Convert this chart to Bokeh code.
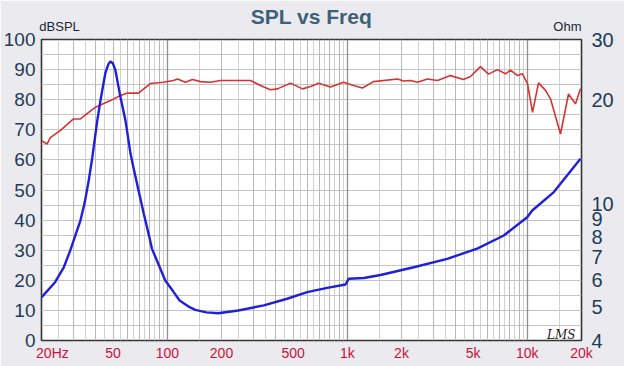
from bokeh.plotting import figure
from bokeh.models import (Range1d, LinearAxis, LogAxis, FixedTicker, Grid, Label, LogScale,
                          BasicTickFormatter)
from bokeh.embed import file_html
from bokeh.resources import INLINE

# ---------------- data ----------------
spl_freq = [20.0, 21.5, 22.4, 25.5, 30.1, 32.9, 39.9, 48.3, 54.9, 60.1, 69.2, 80.7, 95.3,
            108, 114, 126, 138, 153, 174, 197, 233, 290, 329, 374, 409, 483, 564, 625,
            692, 806, 953, 1083, 1215, 1398, 1901, 2052, 2244, 2455, 2789, 3170, 3743,
            4420, 4835, 5494, 6085, 6830, 7565, 8066, 8820, 9402, 10024, 10690, 11540,
            12620, 13450, 15290, 16940, 18520, 19740]
spl_db = [66.4, 65.3, 67.4, 69.8, 73.6, 73.6, 77.5, 79.7, 81.4, 82.2, 82.2, 85.4, 85.8,
          86.4, 86.9, 85.8, 86.7, 86.0, 85.8, 86.4, 86.4, 86.4, 84.7, 83.3, 83.6, 85.5,
          83.6, 84.4, 85.5, 84.2, 85.8, 84.7, 83.9, 86.0, 86.9, 86.2, 86.4, 85.8, 86.9,
          86.4, 88.0, 86.7, 87.7, 91.0, 88.5, 90.0, 88.6, 89.8, 88.0, 88.6, 85.3, 75.8,
          85.6, 83.1, 80.3, 68.6, 81.9, 78.6, 83.6]

imp_freq = [20.0, 23.8, 26.6, 28.9, 32.9, 34.8, 36.6, 38.3, 40.8, 42.5, 45.3, 47.0,
            48.3, 49.8, 51.5, 54.9, 58.6, 62.4, 65.1, 69.0, 74.0, 79.0, 82.1, 90.0,
            97.4, 108, 117, 133, 143, 165, 192, 248, 343.6, 463, 598.6, 773, 977,
            1019, 1236, 1529, 2341, 3589, 5268, 7400, 9985, 10650, 14040, 19740]
imp_ohm = [5.34, 5.91, 6.53, 7.31, 8.93, 10.1, 11.67, 13.6, 17.4, 19.9, 24.0, 25.4,
           25.9, 25.6, 24.4, 20.4, 17.4, 14.0, 12.6, 11.0, 9.35, 8.1, 7.4, 6.6,
           5.98, 5.55, 5.23, 5.0, 4.91, 4.83, 4.80, 4.89, 5.06, 5.29, 5.53, 5.69, 5.82,
           6.05, 6.08, 6.20, 6.53, 6.91, 7.40, 8.08, 9.13, 9.55, 10.8, 13.5]

freq_ticks = [20, 50, 100, 200, 500, 1000, 2000, 5000, 10000, 20000]
freq_labels = ["20Hz", "50", "100", "200", "500", "1k", "2k", "5k", "10k", "20k"]
db_ticks = list(range(0, 101, 10))
ohm_ticks = [4, 5, 6, 7, 8, 9, 10, 20, 30]
title_text = "SPL vs Freq"
left_unit = "dBSPL"
right_unit = "Ohm"

# grid lines: every 0.5 step inside each decade, integer steps a bit darker, decades darkest
decades = [10, 100, 1000, 10000]
freq_grid_half = [(m + 0.5) * d for d in decades for m in range(1, 10) if 20 <= (m + 0.5) * d <= 20000]
freq_grid_int = [m * d for d in decades for m in range(2, 10) if 20 <= m * d <= 20000]
freq_grid_dec = [100, 1000, 10000]
db_grid = list(range(0, 101, 5))

FONT = "Liberation Sans"

p = figure(width=624, height=366, x_axis_type="log",
           x_range=Range1d(20, 20000), y_range=Range1d(0, 100),
           output_backend="svg", toolbar_location=None,
           min_border_left=41, min_border_right=43, min_border_top=39, min_border_bottom=26)

p.background_fill_color = "white"
p.border_fill_color = "#ebebef"
p.outline_line_color = "#333333"
p.outline_line_width = 1.6

p.extra_y_ranges = {"ohm": Range1d(4, 30)}
p.extra_y_scales = {"ohm": LogScale()}

# grids
p.xgrid.ticker = FixedTicker(ticks=freq_grid_half)
p.xgrid.grid_line_color = "#d2d2d2"
p.xgrid.grid_line_width = 1
p.ygrid.ticker = FixedTicker(ticks=db_grid)
p.ygrid.grid_line_color = "#c4c4c4"
p.ygrid.grid_line_width = 1
p.center.append(Grid(dimension=0, ticker=FixedTicker(ticks=freq_grid_int),
                     grid_line_color="#b8b8b8", grid_line_width=1))
p.center.append(Grid(dimension=0, ticker=FixedTicker(ticks=freq_grid_dec),
                     grid_line_color="#8f8f8f", grid_line_width=1.3))

# x axis: the "20Hz" label is drawn left-aligned from the frame edge in the reference,
# so its label anchor is moved to the centre of that text
label_pos = list(freq_ticks)
label_pos[0] = 23.0
xa = p.xaxis[0]
xa.ticker = FixedTicker(ticks=label_pos)
xa.major_label_overrides = {t: l for t, l in zip(label_pos, freq_labels)}
xa.major_label_text_color = "#cc1139"
xa.major_label_text_font_size = "14px"
xa.major_label_text_font = FONT
xa.major_label_standoff = -2
xa.axis_line_color = None
xa.major_tick_line_color = None
xa.minor_tick_line_color = None

# top axis: unit names at both ends, chart title as its axis label
top_pos = [25.2, 16700]
ta = LogAxis(ticker=FixedTicker(ticks=top_pos),
             major_label_overrides={top_pos[0]: left_unit, top_pos[1]: right_unit})
ta.major_label_text_color = "#1a2535"
ta.major_label_text_font_size = "13px"
ta.major_label_text_font = FONT
ta.major_label_standoff = 0
ta.axis_line_color = None
ta.major_tick_line_color = None
ta.minor_tick_line_color = None
ta.axis_label = title_text
ta.axis_label_text_font_size = "21px"
ta.axis_label_text_font_style = "bold"
ta.axis_label_text_color = "#3e6078"
ta.axis_label_text_font = FONT
ta.axis_label_standoff = -12
p.add_layout(ta, "above")

# left axis
ya = p.yaxis[0]
ya.ticker = FixedTicker(ticks=db_ticks)
ya.major_label_text_color = "#243b58"
ya.major_label_text_font_size = "19px"
ya.major_label_text_font = FONT
ya.major_label_standoff = 0
ya.axis_line_color = None
ya.major_tick_line_color = None
ya.minor_tick_line_color = None

# right axis (impedance, log)
ra = LinearAxis(y_range_name="ohm", ticker=FixedTicker(ticks=ohm_ticks),
                formatter=BasicTickFormatter())
ra.major_label_text_color = "#243b58"
ra.major_label_text_font_size = "20px"
ra.major_label_text_font = FONT
ra.major_label_standoff = 4
ra.axis_line_color = None
ra.major_tick_line_color = None
ra.minor_tick_line_color = None
p.add_layout(ra, "right")

# curves
p.line(spl_freq, spl_db, line_color="#d83232", line_width=1.6)
p.line(imp_freq, imp_ohm, line_color="#1f1fdc", line_width=2.4, y_range_name="ohm")

# logo inside the frame
p.add_layout(Label(x=20000, y=0, x_offset=-6, y_offset=6, text="LMS", text_align="right",
                   text_baseline="alphabetic", text_color="#222222", text_font_size="12px",
                   text_font_style="italic", text_font="DejaVu Serif"))

open("out.html", "w").write(file_html(p, INLINE))
